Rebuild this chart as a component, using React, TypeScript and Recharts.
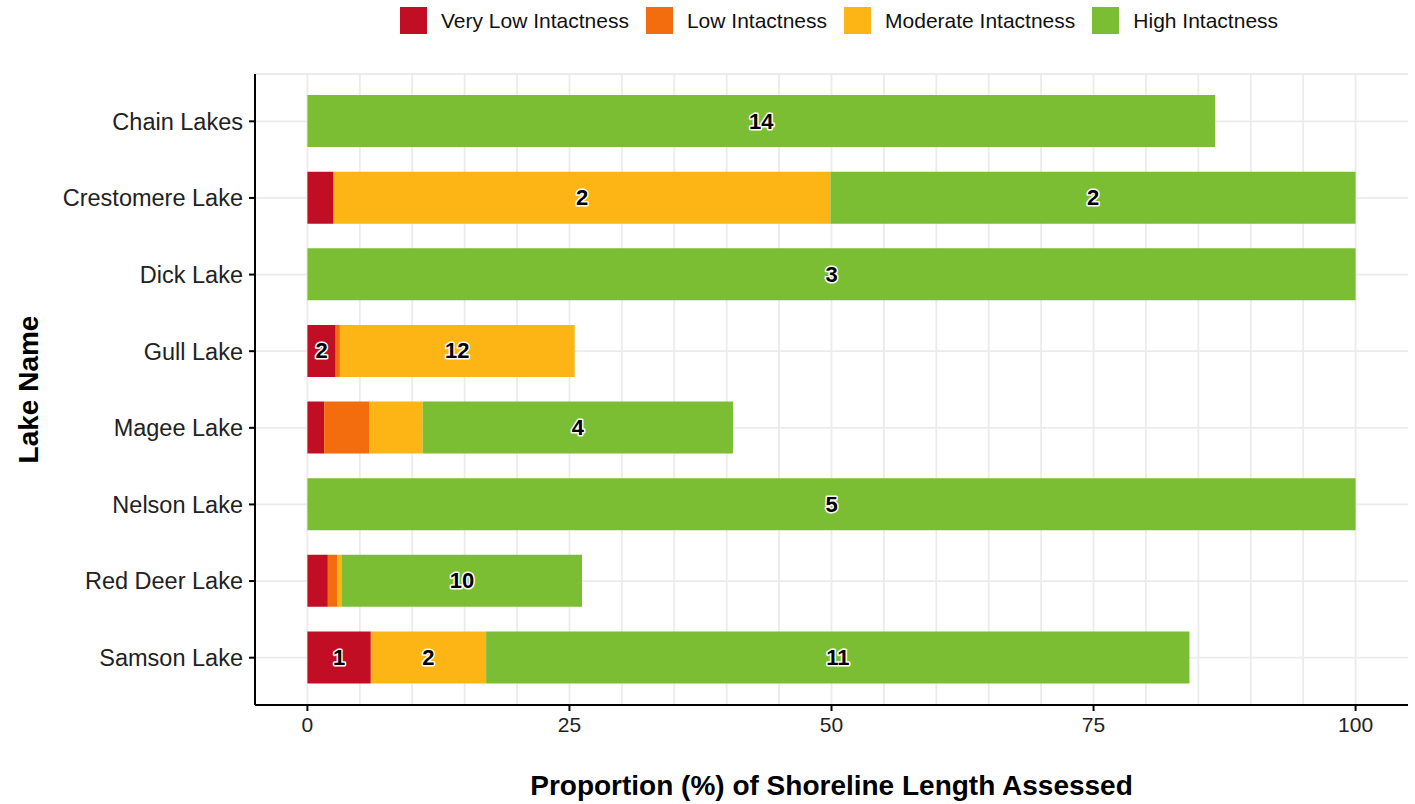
import React from 'react';
import { BarChart, Bar, XAxis, YAxis, CartesianGrid, LabelList } from 'recharts';

const lakes = ['Chain Lakes', 'Crestomere Lake', 'Dick Lake', 'Gull Lake', 'Magee Lake', 'Nelson Lake', 'Red Deer Lake', 'Samson Lake'];
const veryLow = [0, 2.5, 0, 2.7, 1.6, 0, 1.95, 6.05];
const low = [0, 0, 0, 0.4, 4.3, 0, 0.9, 0];
const moderate = [0, 47.4, 0, 22.4, 5.1, 0, 0.45, 11.0];
const high = [86.6, 50.1, 100, 0, 29.6, 100, 22.9, 67.1];
const veryLowLabels = ['', '', '', '2', '', '', '', '1'];
const lowLabels = ['', '', '', '', '', '', '', ''];
const moderateLabels = ['', '2', '', '12', '', '', '', '2'];
const highLabels = ['14', '2', '3', '', '4', '5', '10', '11'];
const xTicks = [0, 25, 50, 75, 100];
const gridValues = [0, 5, 10, 15, 20, 25, 30, 35, 40, 45, 50, 55, 60, 65, 70, 75, 80, 85, 90, 95, 100];

const seriesNames = ['Very Low Intactness', 'Low Intactness', 'Moderate Intactness', 'High Intactness'];
const colors = ['#C20E25', '#F36C0E', '#FDB515', '#7BBE34'];

const data = lakes.map((lake, i) => ({
  lake,
  veryLow: veryLow[i],
  low: low[i],
  moderate: moderate[i],
  high: high[i],
  veryLowLabel: veryLowLabels[i],
  lowLabel: lowLabels[i],
  moderateLabel: moderateLabels[i],
  highLabel: highLabels[i],
}));

const FONT = '"Liberation Sans", Arial, Helvetica, sans-serif';

const renderLabel = (props: any) => {
  const { x, y, width, height, value } = props;
  if (!value) return null;
  return (
    <text
      x={Number(x) + Number(width) / 2}
      y={Number(y) + Number(height) / 2}
      textAnchor="middle"
      dominantBaseline="central"
      fontFamily={FONT}
      fontWeight="bold"
      fontSize={22}
      fill="#000"
      stroke="#fff"
      strokeWidth={3}
      strokeLinejoin="round"
      style={{ paintOrder: 'stroke' }}
    >
      {value}
    </text>
  );
};

const LegendBox = () => (
  <div style={{ position: 'absolute', top: 7, left: 400, display: 'flex', alignItems: 'center', fontFamily: FONT, fontSize: 21, color: '#111', whiteSpace: 'nowrap' }}>
    {seriesNames.map((n, i) => (
      <div key={n} style={{ display: 'flex', alignItems: 'center', marginRight: i < 3 ? 17 : 0 }}>
        <div style={{ width: 27, height: 27, background: colors[i], marginRight: 14 }} />
        <span>{n}</span>
      </div>
    ))}
  </div>
);

export default function App() {
  return (
    <div style={{ position: 'absolute', left: 0, top: 0, width: 1415, height: 804, background: '#fff' }}>
      <BarChart
        width={1415}
        height={804}
        data={data}
        layout="vertical"
        margin={{ top: 74, right: 7, bottom: 10, left: 0 }}
        barCategoryGap={0}
      >
        <CartesianGrid stroke="#EBEBEB" strokeWidth={1.8} verticalValues={gridValues} />
        <XAxis
          type="number"
          domain={[-5, 105]}
          ticks={xTicks}
          allowDataOverflow
          height={89}
          stroke="#000"
          strokeWidth={2}
          tickSize={6}
          tick={{ fill: '#222', fontSize: 21, fontFamily: FONT }}
          tickMargin={6}
          label={{ value: 'Proportion (%) of Shoreline Length Assessed', position: 'insideBottom', offset: -1, style: { fontFamily: FONT, fontWeight: 'bold', fontSize: 28, fill: '#000' } }}
        />
        <YAxis
          type="category"
          dataKey="lake"
          width={255}
          stroke="#000"
          strokeWidth={2}
          tickSize={6}
          tickMargin={6}
          padding={{ top: 9, bottom: 9 }}
          tick={{ fill: '#222', fontSize: 23.5, fontFamily: FONT }}
          label={{ value: 'Lake Name', angle: -90, position: 'insideLeft', offset: 28, style: { textAnchor: 'middle', fontFamily: FONT, fontWeight: 'bold', fontSize: 28, fill: '#000' } }}
        />
        <Bar dataKey="veryLow" stackId="a" fill={colors[0]} barSize={52} isAnimationActive={false} name={seriesNames[0]}>
          <LabelList dataKey="veryLowLabel" content={renderLabel} />
        </Bar>
        <Bar dataKey="low" stackId="a" fill={colors[1]} barSize={52} isAnimationActive={false} name={seriesNames[1]}>
          <LabelList dataKey="lowLabel" content={renderLabel} />
        </Bar>
        <Bar dataKey="moderate" stackId="a" fill={colors[2]} barSize={52} isAnimationActive={false} name={seriesNames[2]}>
          <LabelList dataKey="moderateLabel" content={renderLabel} />
        </Bar>
        <Bar dataKey="high" stackId="a" fill={colors[3]} barSize={52} isAnimationActive={false} name={seriesNames[3]}>
          <LabelList dataKey="highLabel" content={renderLabel} />
        </Bar>
      </BarChart>
      <LegendBox />
    </div>
  );
}
